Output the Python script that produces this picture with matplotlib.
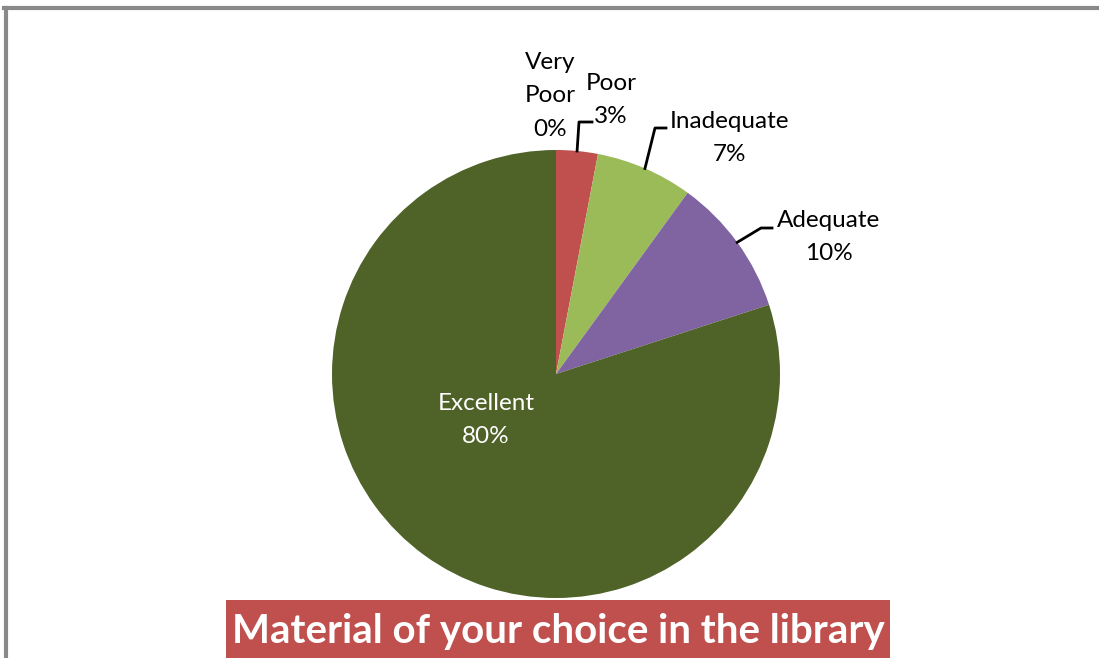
import numpy as np
import matplotlib
matplotlib.use("Agg")
import matplotlib.pyplot as plt
from matplotlib.patches import Rectangle
from matplotlib.lines import Line2D

categories = ["Very Poor", "Poor", "Inadequate", "Adequate", "Excellent"]
values = [0, 3, 7, 10, 80]
pct_labels = ["0%", "3%", "7%", "10%", "80%"]
colors = ["#4F81BD", "#C0504D", "#9BBB59", "#8064A2", "#4F6228"]
title = "Material of your choice in the library"

W, H = 1099, 658
fig = plt.figure(figsize=(W / 100, H / 100), dpi=100)
plt.rcParams['font.family'] = ['Lato', 'DejaVu Sans']

cx, cy, R = 556, 374, 224
ax = fig.add_axes([(cx - R) / W, (H - cy - R) / H, 2 * R / W, 2 * R / H])
ax.pie(values, colors=colors, startangle=90, counterclock=False, radius=1,
       wedgeprops=dict(linewidth=0))
ax.set_xlim(-1, 1)
ax.set_ylim(-1, 1)
ax.set_aspect('equal')
ax.axis('off')

# border (left and top)
fig.add_artist(Line2D([5.5 / W, 5.5 / W], [0, 1 - 7.5 / H], transform=fig.transFigure, color="#898989", lw=3))
fig.add_artist(Line2D([4 / W, 1], [1 - 7.5 / H, 1 - 7.5 / H], transform=fig.transFigure, color="#898989", lw=3))

def px(x, y):
    return x / W, 1 - y / H

fs = 17.5
ls = 1.72
label_pos = {
    "Very Poor": (550, 96),
    "Poor": (611, 100),
    "Inadequate": (730, 138),
    "Adequate": (829, 237),
}
label_text = {
    "Very Poor": "Very\nPoor\n" + pct_labels[0],
    "Poor": "Poor\n" + pct_labels[1],
    "Inadequate": "Inadequate\n" + pct_labels[2],
    "Adequate": "Adequate\n" + pct_labels[3],
}
for k, (x, y) in label_pos.items():
    fx, fy = px(x, y)
    fig.text(fx, fy, label_text[k], ha='center', va='center', fontsize=fs,
             color='black', linespacing=ls)

fx, fy = px(486, 420)
fig.text(fx, fy, "Excellent\n" + pct_labels[4], ha='center', va='center', fontsize=fs,
         color='white', linespacing=ls)

# leader lines from wedge midpoints
total = sum(values)
cum = np.cumsum([0] + values)
leader_ends = {
    "Poor": [(579, 122), (592, 122)],
    "Inadequate": [(655, 128), (666, 128)],
    "Adequate": [(761, 228), (772, 228)],
}
for i, cat in enumerate(categories):
    if cat not in leader_ends:
        continue
    mid = (cum[i] + cum[i + 1]) / 2 / total
    ang = np.deg2rad(90 - 360 * mid)
    sx, sy = cx + R * np.cos(ang), cy - R * np.sin(ang)
    pts = [(sx, sy)] + leader_ends[cat]
    xs = [p[0] / W for p in pts]
    ys = [1 - p[1] / H for p in pts]
    fig.add_artist(Line2D(xs, ys, transform=fig.transFigure, color='black', lw=2))

# title box
fig.add_artist(Rectangle(px(226, 658), (890 - 226) / W, (658 - 600) / H,
                         transform=fig.transFigure, facecolor="#C0504D", edgecolor='none'))
tx, ty = px(558, 632)
fig.text(tx, ty, title, ha='center', va='center', fontsize=29, fontweight='bold', color='white')

fig.savefig("out.png", dpi=100, facecolor='white')
